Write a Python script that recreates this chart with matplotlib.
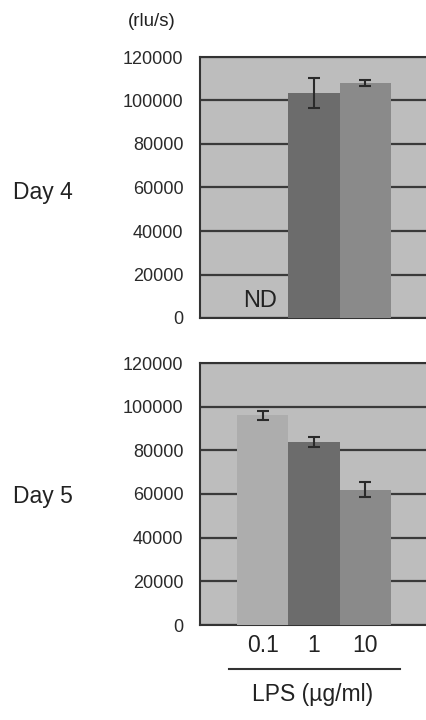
import matplotlib.pyplot as plt
import numpy as np

plt.rcParams['font.family'] = ['Liberation Sans', 'DejaVu Sans']

# Data
doses = ['0.1', '1', '10']
day4_values = [np.nan, 103500, 108000]
day4_errors = [0, 7000, 1500]
day5_values = [96000, 84000, 62000]
day5_errors = [2000, 2300, 3600]
bar_colors = ['#adadad', '#6c6c6c', '#8a8a8a']
y_ticks = [0, 20000, 40000, 60000, 80000, 100000, 120000]

W, H = 426, 720
fig = plt.figure(figsize=(W / 100, H / 100), dpi=100)
fig.patch.set_facecolor('white')


def px_axes(left, top, right, bottom):
    # axes rectangle from pixel coordinates of the reference
    return fig.add_axes([left / W, 1 - bottom / H, (right - left) / W, (bottom - top) / H])


def draw_panel(ax, values, errors):
    x = np.arange(len(doses))
    ax.set_facecolor('#bdbdbd')
    ax.bar(x, values, width=1.0, color=bar_colors, zorder=3)
    ax.errorbar(x, values, yerr=errors, fmt='none', ecolor='#2a2a2a',
                elinewidth=1.5, capsize=4, capthick=1.5, zorder=4)
    ax.set_ylim(0, 120000)
    ax.set_xlim(-1.235, 3.235)
    ax.set_yticks(y_ticks)
    ax.set_yticklabels([str(v) for v in y_ticks], fontsize=13, color='#2a2a2a')
    ax.set_xticks([])
    ax.tick_params(axis='y', length=0, pad=12)
    ax.grid(axis='y', color='#3a3a3a', linewidth=1.6, zorder=1)
    ax.set_axisbelow(True)
    for s in ax.spines.values():
        s.set_color('#333333')
        s.set_linewidth(1.5)


ax_top = px_axes(200, 57, 428, 318)
draw_panel(ax_top, day4_values, day4_errors)
ax_top.text(-0.05, 8000, 'ND', ha='center', va='center', fontsize=17, color='#222222', zorder=5)

ax_bot = px_axes(200, 363, 428, 625)
draw_panel(ax_bot, day5_values, day5_errors)

# dose labels under the lower panel
for i, d in enumerate(doses):
    ax_bot.annotate(d, xy=(i, 0), xycoords=('data', 'axes fraction'),
                    xytext=(0, -20 * 72 / 100), textcoords='offset points',
                    ha='center', va='center', fontsize=16.5, color='#222222')

fig.text(152 / W, 1 - 22 / H, '(rlu/s)', ha='center', va='center', fontsize=13.5, color='#222222')
fig.text(13 / W, 1 - 193 / H, 'Day 4', ha='left', va='center', fontsize=16.5, color='#222222')
fig.text(13 / W, 1 - 497 / H, 'Day 5', ha='left', va='center', fontsize=16.5, color='#222222')

fig.add_artist(plt.Line2D([229 / W, 400 / W], [1 - 669 / H, 1 - 669 / H],
                          color='#333333', linewidth=1.5))
fig.text(313 / W, 1 - 695 / H, 'LPS (µg/ml)', ha='center', va='center', fontsize=16.5, color='#222222')

fig.savefig('out.png', dpi=100)
